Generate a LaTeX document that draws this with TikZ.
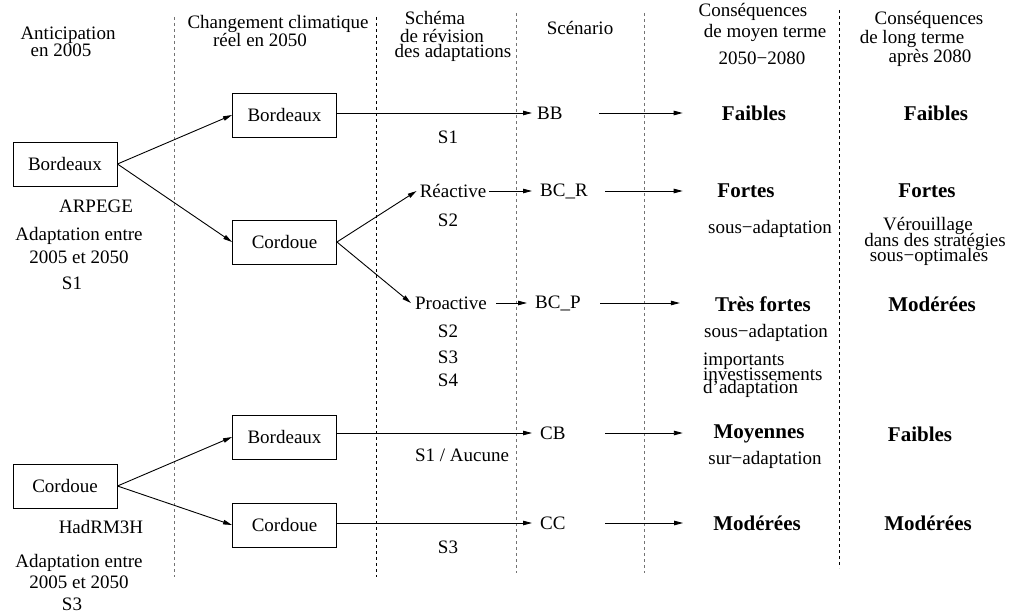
\documentclass[tikz,border=0pt]{standalone}
\usepackage{fontspec}
\setmainfont{Liberation Serif}
\usetikzlibrary{arrows.meta}
\begin{document}
\begin{tikzpicture}[x=1pt,y=-1pt,
  txt/.style={inner sep=0pt,font=\fontsize{19}{21}\selectfont},
  bld/.style={inner sep=0pt,font=\fontsize{21}{23}\selectfont\bfseries},
  cbox/.style={draw,line width=0.9pt,minimum width=104pt,minimum height=44pt,inner sep=0pt,font=\fontsize{19}{21}\selectfont},
  scen/.style={anchor=west,inner xsep=8pt,inner ysep=0pt,text width=57pt,align=left,font=\fontsize{19}{21}\selectfont},
  arr/.style={-{Triangle[length=9pt,width=4.5pt]},line width=0.9pt},
  sepg/.style={dash pattern=on 3pt off 3pt,line width=0.9pt,black!55},
  sepk/.style={dash pattern=on 3pt off 3pt,line width=0.9pt,black}
]
\useasboundingbox (0,0) rectangle (1016,615);

% column separators
\draw[sepg] (174,17) -- (174,577);
\draw[sepk] (376,17) -- (376,577);
\draw[sepg] (516,13) -- (516,573);
\draw[sepg] (644,13) -- (644,573);
\draw[sepk] (839,10) -- (839,568);

% headers
\node[txt,anchor=base] (h1a) at (68,40) {Anticipation};
\node[txt,anchor=base] (h1b) at (61,57) {en 2005};
\node[txt,anchor=base] (h2a) at (278,29) {Changement climatique};
\node[txt,anchor=base] (h2b) at (260,47) {réel en 2050};
\node[txt,anchor=base] (h3a) at (435,25) {Schéma};
\node[txt,anchor=base] (h3b) at (442,43) {de révision};
\node[txt,anchor=base] (h3c) at (453,58) {des adaptations};
\node[txt,anchor=base] (h4) at (580,35) {Scénario};
\node[txt,anchor=base] (h5a) at (753,17) {Conséquences};
\node[txt,anchor=base] (h5b) at (765,38) {de moyen terme};
\node[txt,anchor=base] (h5c) at (762,65) {2050−2080};
\node[txt,anchor=base] (h6a) at (929,25) {Conséquences};
\node[txt,anchor=base] (h6b) at (912,44) {de long terme};
\node[txt,anchor=base] (h6c) at (930,63) {après 2080};

% boxes
\node[cbox] (lb) at (65,164) {Bordeaux};
\node[cbox] (tb) at (284.5,115) {Bordeaux};
\node[cbox] (cm) at (284.5,242) {Cordoue};
\node[cbox] (lc) at (65,486) {Cordoue};
\node[cbox] (bb) at (284.5,437) {Bordeaux};
\node[cbox] (bc) at (284.5,525) {Cordoue};

% left labels
\node[txt,anchor=base] (arp) at (96,212) {ARPEGE};
\node[txt,anchor=base] (ad1) at (79,240) {Adaptation entre};
\node[txt,anchor=base] (ad2) at (79,263) {2005 et 2050};
\node[txt,anchor=base] (ad3) at (72,289) {S1};
\node[txt,anchor=base] (had) at (101,533) {HadRM3H};
\node[txt,anchor=base] (ad4) at (79,567) {Adaptation entre};
\node[txt,anchor=base] (ad5) at (79,588) {2005 et 2050};
\node[txt,anchor=base] (ad6) at (72,610) {S3};

% revision scheme
\node[txt,inner xsep=3pt] (rea) at (453,191) {Réactive};
\node[txt,inner xsep=4pt] (pro) at (451,303) {Proactive};
\node[txt,anchor=base] (s1a) at (448,143) {S1};
\node[txt,anchor=base] (s2a) at (448,226) {S2};
\node[txt,anchor=base] (s2b) at (448,337) {S2};
\node[txt,anchor=base] (s3a) at (448,363) {S3};
\node[txt,anchor=base] (s4a) at (448,386) {S4};
\node[txt,anchor=base] (s1b) at (462,461) {S1 / Aucune};
\node[txt,anchor=base] (s3b) at (448,553) {S3};

% scenarios
\node[scen,inner xsep=5pt] (BB) at (532,113) {BB};
\node[scen] (BCR) at (532,191) {BC\_R};
\node[scen] (BCP) at (527,303) {BC\_P};
\node[scen] (CB) at (532,433) {CB};
\node[scen] (CC) at (532,523) {CC};

% medium-term consequences
\node[bld] (m1) at (754,113) {Faibles};
\node[bld] (m2) at (746,191) {Fortes};
\node[bld] (m3) at (763,304) {Très fortes};
\node[bld] (m4) at (759,434) {Moyennes};
\node[bld] (m5) at (757,523) {Modérées};
\node[txt,anchor=base] (n2) at (770,233) {sous−adaptation};
\node[txt,anchor=base] (n3) at (766,337) {sous−adaptation};
\node[txt,anchor=base west] (n4) at (703,365) {importants};
\node[txt,anchor=base west] (n5) at (703,380) {investissements};
\node[txt,anchor=base west] (n6) at (703,393) {d’adaptation};
\node[txt,anchor=base] (n7) at (765,464) {sur−adaptation};

% long-term consequences
\node[bld] (l1) at (936,113) {Faibles};
\node[bld] (l2) at (927,191) {Fortes};
\node[bld] (l3) at (932,304) {Modérées};
\node[bld] (l4) at (920,434) {Faibles};
\node[bld] (l5) at (928,523) {Modérées};
\node[txt,anchor=base] (v1) at (928,230) {Vérouillage};
\node[txt,anchor=base] (v2) at (935,246) {dans des stratégies};
\node[txt,anchor=base] (v3) at (929,261) {sous−optimales};

% connectors
\draw[arr] (lb.east) -- (tb.west);
\draw[arr] (lb.east) -- (cm.west);
\draw[arr] (lc.east) -- (bb.west);
\draw[arr] (lc.east) -- (bc.west);
\draw[arr] (tb.east |- BB.west) -- (BB.west);
\draw[arr] (bb.east |- CB.west) -- (CB.west);
\draw[arr] (bc.east |- CC.west) -- (CC.west);
\draw[arr] (cm.east) -- (rea.west);
\draw[arr] (cm.east) -- (pro.west);
\draw[arr] (rea.east) -- (BCR.west);
\draw[arr,shorten <=5pt] (pro.east) -- (BCP.west);
\draw[arr,shorten >=39pt] (BB.east) -- (m1.west |- BB.east);
\draw[arr,shorten >=34.5pt] (BCR.east) -- (m2.west |- BCR.east);
\draw[arr,shorten >=35pt] (BCP.east) -- (m3.west |- BCP.east);
\draw[arr,shorten >=30.5pt] (CB.east) -- (m4.west |- CB.east);
\draw[arr,shorten >=30pt] (CC.east) -- (m5.west |- CC.east);
\end{tikzpicture}
\end{document}
